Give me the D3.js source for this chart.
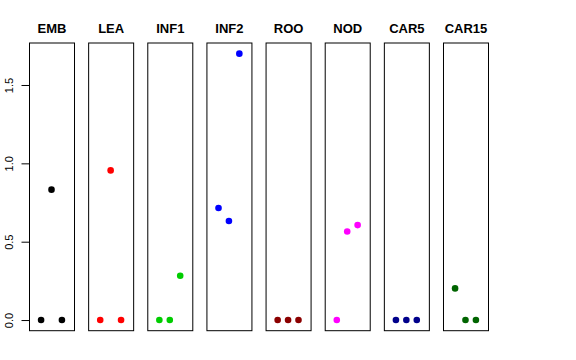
<!DOCTYPE html>
<html><head><meta charset="utf-8">
<script src="https://cdn.jsdelivr.net/npm/d3@7"></script>
<style>body{margin:0;background:#fff}svg{display:block}</style>
</head><body>
<script>
const categories = ["EMB","LEA","INF1","INF2","ROO","NOD","CAR5","CAR15"];
const rep1 = [0, 0, 0, 0.715, 0, 0, 0, 0.202];
const rep2 = [0.832, 0.955, 0, 0.632, 0, 0.565, 0, 0];
const rep3 = [0, 0, 0.283, 1.70, 0, 0.606, 0, 0];
const colors = ["#000000","#FF0000","#00CD00","#0000FF","#8B0000","#FF00FF","#00008B","#006400"];
const yTicks = [0, 0.5, 1.0, 1.5];
const yTickLabels = ["0.0","0.5","1.0","1.5"];

(function() {
const W = 576, H = 360;
const svg = d3.select("body").append("svg").attr("width", W).attr("height", H);
const pTop = 43, pBottom = 330.7;
const y = d3.scaleLinear().domain([-0.068, 1.768]).range([pBottom, pTop]);
const xb = d3.scaleBand().domain(categories).range([29, 488]).paddingInner(0.239).paddingOuter(0);
const xi = d3.scaleLinear().domain([-0.16, 4.16]).range([0, xb.bandwidth()]);

categories.forEach((c, i) => {
  const g = svg.append("g").attr("transform", `translate(${xb(c)},0)`);
  g.append("rect").attr("x", 0.5).attr("y", pTop).attr("width", xb.bandwidth()).attr("height", pBottom - pTop)
    .attr("fill", "none").attr("stroke", "#000").attr("stroke-width", 1);
  g.append("text").attr("x", xb.bandwidth() / 2 + 0.5).attr("y", 33.3)
    .attr("text-anchor", "middle").attr("font-family", "Liberation Sans, Arial, sans-serif")
    .attr("font-weight", "bold").attr("font-size", 13).text(c);
  const vals = [rep1[i], rep2[i], rep3[i]];
  g.selectAll("circle").data(vals).enter().append("circle")
    .attr("cx", (d, j) => xi(j + 1)).attr("cy", d => y(d)).attr("r", 3.3)
    .attr("fill", colors[i]);
});

const axis = d3.axisLeft(y).tickValues(yTicks).tickFormat((d, i) => yTickLabels[i]).tickSize(8).tickPadding(4);
const ag = svg.append("g").attr("transform", "translate(29.5,0)").call(axis);
ag.select(".domain").attr("d", `M0,${y(0)}V${y(1.5)}`).attr("stroke", "#000");
ag.selectAll(".tick line").attr("stroke", "#000");
ag.selectAll(".tick text").attr("font-family", "Liberation Sans, Arial, sans-serif").attr("font-size", 11)
  .attr("fill", "#000").attr("x", 0).attr("y", 0).attr("dy", 0)
  .attr("transform", "translate(-16.3,0) rotate(-90)").attr("text-anchor", "middle");
})();
</script>
</body></html>
